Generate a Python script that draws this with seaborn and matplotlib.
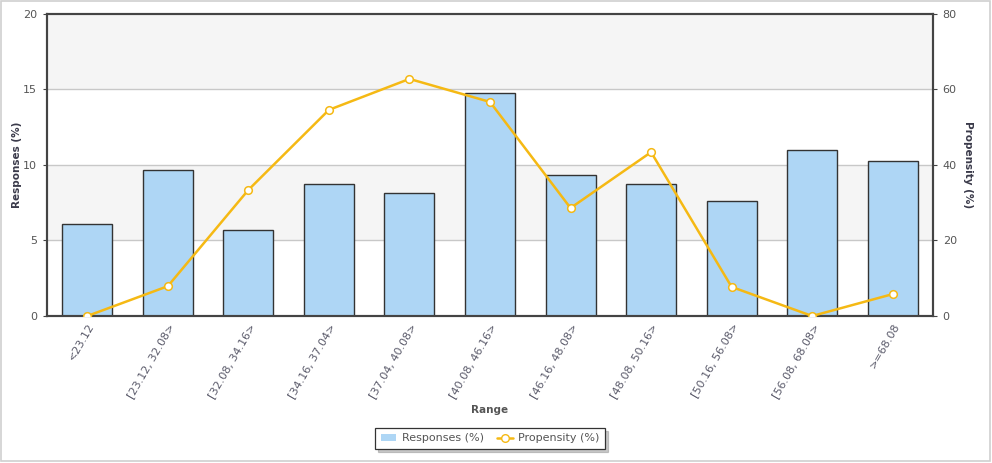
import numpy as np
import pandas as pd
import matplotlib
matplotlib.use("Agg")
import matplotlib.pyplot as plt
from matplotlib.patches import Rectangle, Patch
from matplotlib.lines import Line2D
import seaborn as sns

categories = ["<23.12", "[23.12, 32.08>", "[32.08, 34.16>", "[34.16, 37.04>",
              "[37.04, 40.08>", "[40.08, 46.16>", "[46.16, 48.08>", "[48.08, 50.16>",
              "[50.16, 56.08>", "[56.08, 68.08>", ">=68.08"]
responses = [6.1, 9.65, 5.7, 8.74, 8.15, 14.77, 9.34, 8.74, 7.6, 11.0, 10.26]
propensity = [0.0, 7.9, 33.4, 54.6, 62.8, 56.7, 28.6, 43.4, 7.7, 0.0, 5.8]

sns.set_style("white")
plt.rcParams['font.family'] = ['DejaVu Sans']

bar_color = "#aed6f5"
line_color = "#f5b914"
text_color = "#555555"
spine_color = "#444444"

df = pd.DataFrame({"Range": categories, "Responses": responses, "Propensity": propensity})

fig = plt.figure(figsize=(9.92, 4.63), dpi=100)
ax = fig.add_axes([0.0474, 0.3175, 0.8931, 0.6523])

# background bands
ax.axhspan(5, 10, color="#f5f5f5", zorder=0, lw=0)
ax.axhspan(15, 20, color="#f5f5f5", zorder=0, lw=0)
for y in (5, 10, 15):
    ax.axhline(y, color="#c8c8c8", lw=1, zorder=0.5)

sns.barplot(data=df, x="Range", y="Responses", ax=ax, color=bar_color,
            edgecolor="#333333", linewidth=1, width=0.62, saturation=1, zorder=2)
ax.set_xlim(-0.5, len(categories) - 0.5)
ax.set_ylim(0, 20)
ax.set_yticks([0, 5, 10, 15, 20])
ax.set_xlabel("Range", fontsize=7.5, fontweight="bold", color=text_color, labelpad=4)
ax.set_ylabel("Responses (%)", fontsize=7.5, fontweight="bold", color="#3a3a4a", labelpad=1)
ax.tick_params(axis="y", labelsize=8, labelcolor=text_color, length=3, color=spine_color, pad=4)
ax.tick_params(axis="x", labelsize=8, labelcolor="#5a5a6a", length=0, pad=4)
plt.setp(ax.get_xticklabels(), rotation=60, ha="right", rotation_mode="anchor")

ax2 = ax.twinx()
sns.lineplot(x=np.arange(len(categories)), y=propensity, ax=ax2, sort=False,
             color=line_color, lw=1.8, marker="o", markersize=5.5,
             markerfacecolor="white", markeredgecolor=line_color, markeredgewidth=1.1,
             zorder=3)
ax2.set_ylim(0, 80)
ax2.set_yticks([0, 20, 40, 60, 80])
ax2.set_xlim(-0.5, len(categories) - 0.5)
ax2.set_ylabel("Propensity (%)", fontsize=7.5, fontweight="bold", color="#3a3a4a",
               rotation=270, labelpad=12)
ax2.tick_params(axis="y", labelsize=8, labelcolor=text_color, length=3, color=spine_color, pad=4)

for a in (ax, ax2):
    for s in a.spines.values():
        s.set_color(spine_color)
        s.set_linewidth(1.5)
        s.set_visible(True)

handles = [Patch(facecolor=bar_color, edgecolor="none", label="Responses (%)"),
           Line2D([0], [0], color=line_color, lw=1.8, marker="o", markersize=5.5,
                  markerfacecolor="white", markeredgecolor=line_color, label="Propensity (%)")]
leg = fig.legend(handles=handles, loc="center", bbox_to_anchor=(0.494, 0.053), ncol=2,
                 fontsize=8, frameon=True, fancybox=False,
                 shadow={"color": "#888888", "alpha": 0.45},
                 handlelength=1.4, columnspacing=1.2, handletextpad=0.5,
                 borderpad=0.5)
leg.get_frame().set_edgecolor("#333333")
leg.get_frame().set_linewidth(0.9)
for t in leg.get_texts():
    t.set_color(text_color)

fig.patches.append(Rectangle((0.001, 0.004), 0.997, 0.994, transform=fig.transFigure,
                             fill=False, edgecolor="#d0d0d0", lw=1.2))

fig.savefig("out.png", dpi=100)
